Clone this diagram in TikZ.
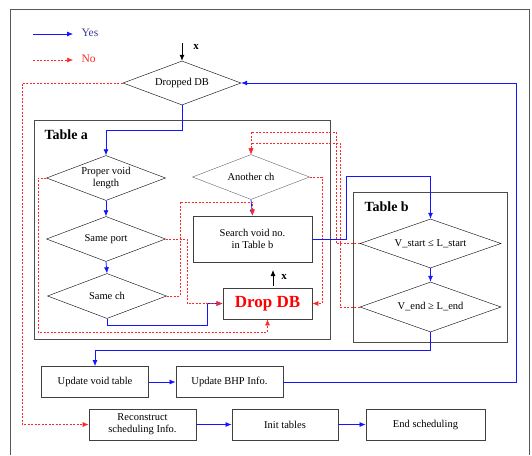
\documentclass[tikz,border=0pt]{standalone}
\usepackage{fontspec}
\setmainfont{Liberation Serif}
\usetikzlibrary{shapes.geometric,arrows.meta}
\definecolor{yesblue}{RGB}{20,20,255}
\definecolor{yestext}{RGB}{60,60,150}
\definecolor{nored}{RGB}{255,40,40}
\begin{document}
\begin{tikzpicture}[x=1pt,y=-1pt,
  font=\fontsize{10.5}{12}\selectfont,
  cond/.style={draw,shape=diamond,thin,inner sep=0pt,aspect=2.64,minimum width=119pt,minimum height=45pt,align=center},
  stepbox/.style={draw=black!75,line width=0.8pt,inner sep=0pt,minimum width=107pt,minimum height=31pt,align=center},
  table/.style={draw=black!70,line width=1pt},
  yes/.style={draw=yesblue,line width=0.75pt,-{Latex[length=6pt,width=5pt]}},
  no/.style={draw=nored,line width=0.6pt,dash pattern=on 2pt off 1.5pt,-{Latex[length=6pt,width=5pt]}},
  arr/.style={draw=black,line width=0.8pt,-{Latex[length=6pt,width=5pt]}}]
  \useasboundingbox (0,0) rectangle (532,455);
  \draw[black!65,line width=0.8pt] (10,455) -- (10,9) -- (529,9) -- (529,455);
  \draw[table] (34,120) rectangle (330,339);
  \draw[table] (353,192) rectangle (507,342);
  \node[anchor=west,font=\fontsize{14}{16}\selectfont\bfseries] (ta) at (41,135) {Table a};
  \node[anchor=west,font=\fontsize{14}{16}\selectfont\bfseries] (tb) at (361,207) {Table b};
  \coordinate (ya) at (33,34);
  \coordinate (yb) at (73,34);
  \coordinate (na) at (33,60);
  \coordinate (nb) at (73,60);
  \node[anchor=west,text=yestext,font=\fontsize{11.5}{13}\selectfont] (yl) at (78,33) {Yes};
  \node[anchor=west,text=nored,font=\fontsize{11.5}{13}\selectfont] (nl) at (78,59) {No};
  \coordinate (xa) at (182,43);
  \node[font=\fontsize{11}{13}\selectfont\bfseries] (xl) at (196,47) {x};
  \node[cond,aspect=2.68,minimum width=118pt,minimum height=44pt] (dropped) at (182,83) {Dropped DB};
  \node[cond] (proper) at (106,178) {Proper void\\length};
  \node[cond] (sport) at (106,239) {Same port};
  \node[cond] (sch) at (107,296) {Same ch};
  \node[cond,draw=black!60,aspect=2.6,minimum width=117pt] (another) at (251,177) {Another ch};
  \node[stepbox,minimum width=119pt,minimum height=46pt] (search) at (252.5,239) {Search void no.\\in Table b};
  \node[stepbox,minimum width=89pt,text=red,font=\fontsize{17}{19}\selectfont\bfseries] (drop) at (267.5,303.5) {Drop DB};
  \coordinate (xc) at (273,286);
  \coordinate (xd) at (273,270);
  \node[font=\fontsize{11}{13}\selectfont\bfseries] (xm) at (284,277) {x};
  \node[cond,aspect=2.88,minimum width=141pt,minimum height=49pt] (vstart) at (430.5,243.5) {V\_start ≤ L\_start};
  \node[cond,aspect=2.82,minimum width=141pt,minimum height=50pt] (vend) at (430.5,307) {V\_end ≥ L\_end};
  \node[stepbox] (upvoid) at (95,382) {Update void table};
  \node[stepbox] (upbhp) at (229.5,382) {Update BHP Info.};
  \node[stepbox] (recon) at (142.5,424.5) {Reconstruct\\scheduling Info.};
  \node[stepbox,minimum width=106pt] (init) at (285,424.5) {Init tables};
  \node[stepbox,minimum width=119pt] (endsch) at (425.5,424.5) {End scheduling};
  \draw[yes] (ya) -- (yb);
  \draw[no] (na) -- (nb);
  \draw[arr] (xa) -- (dropped.north);
  \draw[arr] (xc) -- (xd);
  \draw[yes] (upbhp.east) -- (516,382) |- (dropped.east);
  \draw[no] (dropped.west) -- (22,83) |- (recon.west);
  \draw[yes] (dropped.south) -- (182,130) -| (proper.north);
  \draw[yes] (proper.south) -- (sport.north);
  \draw[yes] (sport.south) -- (sch.north);
  \draw[yes] (sch.south) |- (207,325) |- (drop.west);
  \draw[no] (sport.east) -- (187,239) |- (drop.west);
  \draw[yes] (another.south) -- (search.north);
  \draw[no] (sch.east) -| (180,202) -| (search.north);
  \draw[no] (proper.west) -| (38,332) -| (drop.south);
  \draw[no] (another.east) -- (322,177) |- (drop.east);
  \draw[yes] (search.east) -| (346,176) -| (vstart.north);
  \draw[no] (vstart.west) -| (336,132) -| (another.north);
  \draw[no] (vend.west) -| (340,143) -| (another.north);
  \draw[yes] (vstart.south) -- (vend.north);
  \draw[yes] (vend.south) -- (430.5,350) -| (upvoid.north);
  \draw[yes] (upvoid.east) -- (upbhp.west);
  \draw[yes] (recon.east) -- (init.west);
  \draw[yes] (init.east) -- (endsch.west);

\end{tikzpicture}
\end{document}
